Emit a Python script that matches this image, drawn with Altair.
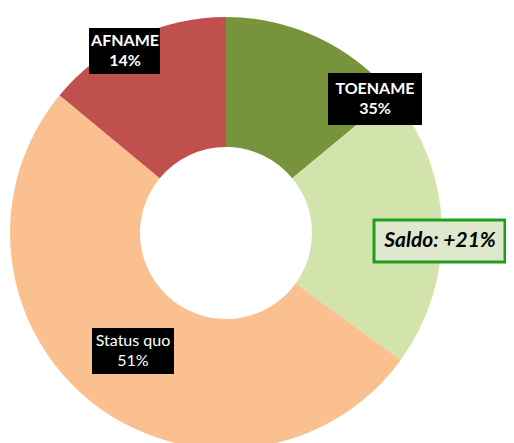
import altair as alt
import pandas as pd

# Donut segments (clockwise from 12 o'clock)
categories = ["Toename (sterk)", "Toename (saldo)", "Status quo", "Afname"]
values = [14, 21, 51, 14]
colors = ["#77933c", "#d2e4ac", "#fac090", "#c0504d"]

# Annotation labels
label_text = ["AFNAME\n14%", "TOENAME\n35%", "Status quo\n51%"]
label_bold = ["bold", "bold", "normal"]
label_cx = [117, 367, 125]
label_cy = [43, 91, 343]
label_box_x = [81, 320, 84]
label_box_x2 = [152, 414, 166]
label_box_y = [20, 65, 320]
label_box_y2 = [66, 117, 366]

saldo_text = ["Saldo: +21%"]
saldo_box = {"x": [366], "x2": [497], "y": [212], "y2": [254]}
saldo_center = {"x": [432], "y": [233]}

CX, CY = 218, 225

arc_df = pd.DataFrame({"cat": categories, "value": values, "order": list(range(len(values)))})

arcs = alt.Chart(arc_df).mark_arc(radius=216, radius2=86).encode(
    theta=alt.Theta("value:Q", stack=True),
    color=alt.Color("cat:N", scale=alt.Scale(domain=categories, range=colors), legend=None),
    order=alt.Order("order:Q"),
    x=alt.value(CX),
    y=alt.value(CY),
)

lab_df = pd.DataFrame({
    "text": label_text, "weight": label_bold,
    "cx": label_cx, "cy": label_cy,
    "x1": label_box_x, "x2": label_box_x2, "y1": label_box_y, "y2": label_box_y2,
})

boxes = alt.Chart(lab_df).mark_rect(color="black").encode(
    x=alt.X("x1:Q", scale=None), x2="x2:Q",
    y=alt.Y("y1:Q", scale=None), y2="y2:Q",
)

bold_texts = alt.Chart(lab_df[lab_df["weight"] == "bold"]).mark_text(
    color="white", font="Lato", fontSize=16, fontWeight="bold",
    lineBreak="\n", lineHeight=20, baseline="middle", align="center", dy=-10,
).encode(
    x=alt.X("cx:Q", scale=None), y=alt.Y("cy:Q", scale=None), text="text:N",
)

normal_texts = alt.Chart(lab_df[lab_df["weight"] == "normal"]).mark_text(
    color="white", font="Lato", fontSize=16, fontWeight="normal",
    lineBreak="\n", lineHeight=20, baseline="middle", align="center", dy=-10,
).encode(
    x=alt.X("cx:Q", scale=None), y=alt.Y("cy:Q", scale=None), text="text:N",
)

saldo_df = pd.DataFrame({
    "text": saldo_text, "x1": saldo_box["x"], "x2": saldo_box["x2"],
    "y1": saldo_box["y"], "y2": saldo_box["y2"],
    "cx": saldo_center["x"], "cy": saldo_center["y"],
})

saldo_rect = alt.Chart(saldo_df).mark_rect(
    fill="#dfe8cc", stroke="#1e9e1e", strokeWidth=3
).encode(
    x=alt.X("x1:Q", scale=None), x2="x2:Q",
    y=alt.Y("y1:Q", scale=None), y2="y2:Q",
)

saldo_txt = alt.Chart(saldo_df).mark_text(
    color="black", font="Lato", fontSize=21, fontWeight="bold", fontStyle="italic",
    baseline="middle", align="center",
).encode(
    x=alt.X("cx:Q", scale=None), y=alt.Y("cy:Q", scale=None), text="text:N",
)

chart = alt.layer(arcs, boxes, bold_texts, normal_texts, saldo_rect, saldo_txt).properties(
    width=498, height=435, autosize="none", padding=0,
).configure_view(stroke=None)

chart.save("out.html", embed_options={"renderer": "svg", "actions": False})
